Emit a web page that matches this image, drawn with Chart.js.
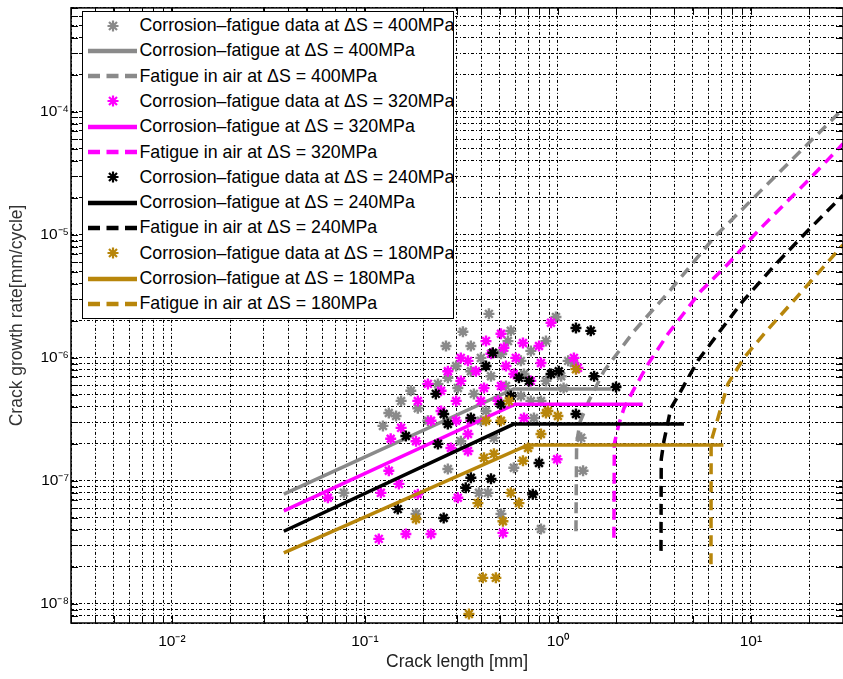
<!DOCTYPE html>
<html>
<head>
<meta charset="utf-8">
<script src="https://cdn.jsdelivr.net/npm/chart.js@4.4.1/dist/chart.umd.min.js"></script>
<style>
html,body{margin:0;padding:0;background:#fff;}
#wrap{position:relative;width:843px;height:679px;overflow:hidden;}
#legend{position:absolute;left:82px;top:11px;width:372px;height:308px;background:#fff;border:1.5px solid #000;overflow:hidden;box-sizing:border-box;font-family:"Liberation Sans",Arial,Helvetica,sans-serif;font-size:17.8px;color:#000;}
.row{position:absolute;left:0;height:25px;display:flex;align-items:center;white-space:nowrap;}
.row svg{margin-left:4.5px;flex:none;}
.row span{margin-left:3px;}
</style>
</head>
<body>
<div id="wrap">
<canvas id="c" width="843" height="679"></canvas>
<div id="legend"></div>
</div>
<script>
// ---- axis ticks ----
const xMajorTicks = [0.01, 0.1, 1, 10];
const xTickLabels = ['10\u207B\u00B2', '10\u207B\u00B9', '10\u2070', '10\u00B9'];
const yMajorTicks = [1e-8, 1e-7, 1e-6, 1e-5, 1e-4];
const yTickLabels = ['10\u207B\u2078', '10\u207B\u2077', '10\u207B\u2076', '10\u207B\u2075', '10\u207B\u2074'];
const xRange = [0.003, 30];
const yRange = [7e-9, 7e-4];

// ---- series labels ----
const stressLevels = ['400MPa', '320MPa', '240MPa', '180MPa'];
const seriesColors = ['#8a8a8a', '#ff00ff', '#000000', '#b8860b'];

// ---- corrosion-fatigue data (crack length mm, growth rate mm/cycle) ----
const cfData400 = [[0.439,2.28e-6],[0.322,1.63e-6],[0.977,2.15e-6],[0.551,1.37e-6],[0.507,1.08e-6],[0.399,1.0e-6],[0.519,1.14e-6],[0.667,7.4e-7],[1.13,9.46e-7],[1.07,5.7e-7],[1.21,9.1e-7],[0.367,5.1e-7],[0.269,6.9e-7],[0.303,5.7e-7],[0.188,3.9e-7],[0.154,4.47e-7],[0.133,3.57e-7],[0.124,2.8e-7],[0.212,3.08e-7],[0.466,2.24e-7],[0.751,3.25e-7],[1.32,2.24e-7],[0.591,1.28e-7],[0.0778,8.0e-8],[0.184,5.4e-8],[0.269,1.25e-7],[0.390,8.0e-8],[0.434,8.0e-8],[0.507,5.4e-8],[0.817,4.07e-8],[1.35,1.21e-7],[0.239,6.15e-7],[0.354,7.8e-7],[0.643,9.46e-7],[0.867,6.5e-7],[0.724,4.47e-7],[0.424,3.7e-7],[0.314,2.1e-7],[0.263,1.25e-6],[0.354,1.25e-6],[0.297,8.6e-7],[0.450,7.1e-7],[0.538,5.9e-7],[0.643,4.9e-7],[0.817,4.47e-7],[0.399,3.08e-7],[0.173,5.4e-7],[0.145,3.37e-7],[0.724,1.14e-6],[0.867,1.37e-6],[0.570,1.66e-6],[1.04,7.1e-7]];
const cfData320 = [[0.921,1.93e-6],[0.507,1.57e-6],[0.659,1.32e-6],[0.798,1.25e-6],[0.525,1.21e-6],[0.450,1.08e-6],[0.605,1.0e-6],[0.817,9.1e-7],[1.21,1.0e-6],[1.27,8.3e-7],[0.342,9.46e-7],[0.314,1.0e-6],[0.591,7.4e-7],[0.269,7.8e-7],[0.212,6.15e-7],[0.414,5.7e-7],[0.399,4.47e-7],[0.489,4.47e-7],[0.667,3.25e-7],[0.99,1.5e-7],[0.342,1.75e-7],[0.154,2.7e-7],[0.136,2.2e-7],[0.188,4.47e-7],[0.248,3.7e-7],[0.342,2.41e-7],[0.279,1.85e-7],[0.133,1.21e-7],[0.0643,7.3e-8],[0.121,8.0e-8],[0.150,9.46e-8],[0.188,7.8e-8],[0.303,7.3e-8],[0.118,3.38e-8],[0.163,3.7e-8],[0.220,3.7e-8],[0.519,3.78e-8],[0.297,3.08e-7],[0.248,5.4e-7],[0.314,6.5e-7],[0.376,7.8e-7],[0.220,3.08e-7],[0.297,4.47e-7],[0.538,8.6e-7],[0.424,1.37e-6],[0.724,6.5e-7],[0.184,2.1e-7],[0.354,3.08e-7],[0.507,5.9e-7]];
const cfData240 = [[1.24,1.75e-6],[1.48,1.66e-6],[0.460,1.10e-6],[0.628,6.9e-7],[0.708,6.5e-7],[0.921,7.4e-7],[1.01,7.8e-7],[1.54,7.1e-7],[2.0,5.8e-7],[0.507,4.2e-7],[1.24,3.5e-7],[0.354,3.25e-7],[0.798,1.40e-7],[0.233,5.1e-7],[0.256,3.5e-7],[0.163,2.32e-7],[0.239,2.0e-7],[0.269,2.9e-7],[0.148,5.9e-8],[0.256,5.0e-8],[0.333,8.8e-8],[0.354,1.06e-7],[0.450,1.04e-7],[0.741,7.8e-8],[0.570,4.9e-7],[0.424,8.6e-7]];
const cfData180 = [[1.24,8.1e-7],[0.557,4.47e-7],[0.887,3.7e-7],[1.00,3.37e-7],[0.424,3.08e-7],[0.507,3.08e-7],[0.817,2.41e-7],[0.700,1.85e-7],[0.466,1.66e-7],[0.414,1.54e-7],[0.659,1.46e-7],[0.184,4.9e-8],[0.346,8.3e-9],[0.385,6.6e-8],[0.570,8.0e-8],[0.628,6.6e-8],[0.519,4.7e-8],[0.408,1.63e-8],[0.477,1.63e-8],[0.867,3.57e-7]];

// ---- corrosion-fatigue model curves ----
const cfLine400 = [[0.038,7.8e-8],[0.59,5.6e-7],[1.88,5.6e-7]];
const cfLine320 = [[0.038,5.7e-8],[0.60,4.2e-7],[2.75,4.2e-7]];
const cfLine240 = [[0.038,3.9e-8],[0.59,2.9e-7],[4.5,2.9e-7]];
const cfLine180 = [[0.038,2.6e-8],[0.70,1.96e-7],[7.2,1.96e-7]];

// ---- fatigue in air curves ----
const airLine400 = [[1.24,3.9e-8],[1.25,2.0e-7],[1.30,3.0e-7],[1.45,4.5e-7],[1.73,7.8e-7],[2.48,1.65e-6],[3.85,3.6e-6],[6.43,9.5e-6],[11.3,2.3e-5],[28.2,9.6e-5],[30,1.05e-4]];
const airLine320 = [[1.95,3.45e-8],[1.96,2.0e-7],[2.07,2.9e-7],[2.20,3.9e-7],[2.45,5.4e-7],[2.93,8.9e-7],[3.72,1.57e-6],[5.51,3.5e-6],[7.6,5.8e-6],[10.9,1.08e-5],[19.7,2.75e-5],[30,5.5e-5]];
const airLine240 = [[3.42,2.7e-8],[3.43,1.5e-7],[3.54,2.1e-7],[3.85,3.9e-7],[4.34,5.4e-7],[5.31,9.5e-7],[6.75,1.57e-6],[9.09,2.9e-6],[13.2,5.6e-6],[19.7,1.08e-5],[30,2.1e-5]];
const airLine180 = [[6.21,2.1e-8],[6.22,2.1e-7],[6.75,3.25e-7],[7.6,6.15e-7],[9.2,1.0e-6],[11.7,1.57e-6],[16.1,2.75e-6],[30,8.3e-6]];

const cfDataSets = [cfData400, cfData320, cfData240, cfData180];
const cfLineSets = [cfLine400, cfLine320, cfLine240, cfLine180];
const airLineSets = [airLine400, airLine320, airLine240, airLine180];

const toXY = arr => arr.map(p => ({x: p[0], y: p[1]}));

const datasets = [];
let ord = 100;
stressLevels.forEach((s, i) => {
  const col = seriesColors[i];
  datasets.push({
    label: 'Corrosion\u2013fatigue data at \u0394S = ' + s,
    data: toXY(cfDataSets[i]), showLine: false,
    pointStyle: 'star', pointRadius: 5.5, pointHoverRadius: 5.5,
    borderColor: col, backgroundColor: col, pointBorderWidth: 2.4, order: ord--
  });
  datasets.push({
    label: 'Corrosion\u2013fatigue at \u0394S = ' + s,
    data: toXY(cfLineSets[i]), showLine: true, pointRadius: 0,
    borderColor: col, backgroundColor: col, borderWidth: 3.5, tension: 0, order: ord--
  });
  datasets.push({
    label: 'Fatigue in air at \u0394S = ' + s,
    data: toXY(airLineSets[i]), showLine: true, pointRadius: 0,
    borderColor: col, backgroundColor: col, borderWidth: 3.5, borderDash: [11, 7],
    tension: 0, order: ord--
  });
});

function gridValues(lo, hi) {
  const out = [];
  for (let e = Math.floor(Math.log10(lo)); e <= Math.ceil(Math.log10(hi)); e++) {
    for (let k = 1; k <= 9; k++) {
      const v = Number((k * Math.pow(10, e)).toPrecision(6));
      if (v >= lo * 0.999 && v <= hi * 1.001) out.push(v);
    }
  }
  return out;
}
function labelFor(v, majors, labels) {
  const i = majors.findIndex(m => Math.abs(m - v) / m < 1e-6);
  return i >= 0 ? labels[i] : '';
}

// stretch the plot area to the right canvas edge (as in the reference, where the axes run off the image)
const fullWidth = {
  id: 'fullWidth',
  afterLayout(chart) {
    const a = chart.chartArea;
    const d = chart.width - a.right;
    if (d > 0) {
      a.right += d; a.width += d;
      const xs = chart.scales.x;
      xs.right += d; xs.width += d;
      xs.configure();
      const ys = chart.scales.y;
      ys.configure();
    }
  }
};

const frameTicks = {
  id: 'frameTicks',
  afterDraw(chart) {
    const {ctx, chartArea: a} = chart;
    const xs = chart.scales.x, ys = chart.scales.y;
    const L = 7;
    ctx.save();
    ctx.strokeStyle = '#000';
    ctx.lineWidth = 1;
    ctx.beginPath();
    xs.ticks.forEach(t => {
      const p = Math.round(xs.getPixelForValue(t.value)) + 0.5;
      ctx.moveTo(p, a.bottom); ctx.lineTo(p, a.bottom - L);
      ctx.moveTo(p, a.top); ctx.lineTo(p, a.top + L);
    });
    ys.ticks.forEach(t => {
      const p = Math.round(ys.getPixelForValue(t.value)) + 0.5;
      ctx.moveTo(a.left, p); ctx.lineTo(a.left + L, p);
      ctx.moveTo(a.right, p); ctx.lineTo(a.right - L, p);
    });
    ctx.stroke();
    ctx.lineWidth = 1.5;
    ctx.strokeRect(a.left, a.top, a.right - a.left, a.bottom - a.top);
    ctx.restore();
  }
};

const FONT = '"Liberation Sans", Arial, Helvetica, sans-serif';

const chart = new Chart(document.getElementById('c'), {
  type: 'scatter',
  data: {datasets},
  options: {
    responsive: false, animation: false, devicePixelRatio: 1,
    layout: {padding: {top: 6, right: 0, left: 0, bottom: 0}},
    plugins: {legend: {display: false}, tooltip: {enabled: false}},
    scales: {
      x: {
        type: 'logarithmic', min: xRange[0], max: xRange[1],
        afterBuildTicks: s => { s.ticks = gridValues(xRange[0], xRange[1]).map(v => ({value: v})); },
        afterFit: s => { s.height = 56; s.paddingLeft = 0; s.paddingRight = 0; },
        ticks: {autoSkip: false, maxRotation: 0, padding: 9, color: '#000',
          font: {family: FONT, size: 15.5},
          callback: v => labelFor(v, xMajorTicks, xTickLabels)},
        grid: {color: '#000', lineWidth: 1, drawTicks: false},
        border: {display: false, dash: [3, 2, 1, 2]},
        title: {display: true, text: 'Crack length [mm]', color: '#222',
          font: {family: FONT, size: 17.5}, padding: {top: 0, bottom: 6}}
      },
      y: {
        type: 'logarithmic', min: yRange[0], max: yRange[1],
        afterBuildTicks: s => { s.ticks = gridValues(yRange[0], yRange[1]).map(v => ({value: v})); },
        afterFit: s => { s.width = 71; s.paddingTop = 0; s.paddingBottom = 0; },
        ticks: {autoSkip: false, padding: 2, color: '#000',
          font: {family: FONT, size: 15.5},
          callback: v => labelFor(v, yMajorTicks, yTickLabels)},
        grid: {color: '#000', lineWidth: 1, drawTicks: false},
        border: {display: false, dash: [3, 2, 1, 2]},
        title: {display: true, text: 'Crack growth rate[mm/cycle]', color: '#333',
          font: {family: FONT, size: 17.5}, padding: {top: 7, bottom: 0}}
      }
    }
  },
  plugins: [fullWidth, frameTicks]
});

// ---- HTML legend built from the datasets ----
const leg = document.getElementById('legend');
chart.data.datasets.forEach((ds, i) => {
  const row = document.createElement('div');
  row.className = 'row';
  row.style.top = (1 + 25.3 * i) + 'px';
  let svg;
  const c = ds.borderColor;
  if (ds.showLine === false) {
    svg = '<svg width="49" height="12"><path d="M25 0.5 V11.5 M19.5 6 H30.5 M21 2 L29 10 M29 2 L21 10" stroke="' + c + '" stroke-width="2.2" fill="none"/></svg>';
  } else if (ds.borderDash) {
    svg = '<svg width="49" height="12"><line x1="0" y1="6" x2="49" y2="6" stroke="' + c + '" stroke-width="4.5" stroke-dasharray="12 6.5"/></svg>';
  } else {
    svg = '<svg width="49" height="12"><line x1="0" y1="6" x2="49" y2="6" stroke="' + c + '" stroke-width="4.5"/></svg>';
  }
  row.innerHTML = svg + '<span>' + ds.label + '</span>';
  leg.appendChild(row);
});
</script>
</body>
</html>
